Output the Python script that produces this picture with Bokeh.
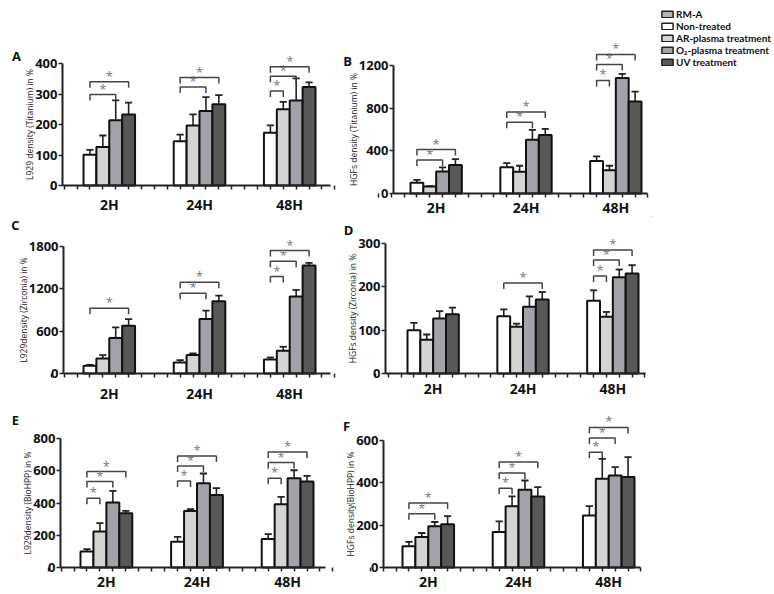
from bokeh.plotting import figure
from bokeh.models import ColumnDataSource, FixedTicker, Legend, LegendItem, Range1d
from bokeh.layouts import row, column
from bokeh.embed import file_html
from bokeh.resources import INLINE
from bokeh.core.properties import value

# ---------------- data ----------------
groups = ["2H", "24H", "48H"]
treatments = ["Non-treated", "AR-plasma treatment", "O\u2082-plasma treatment", "UV treatment"]
legend_labels = ["RM-A", "Non-treated", "AR-plasma treatment", "O\u2082-plasma treatment", "UV treatment"]

# A: L929 on Titanium   (rows = 2H, 24H, 48H ; cols = treatments)
a_mean = [[101, 126, 214, 233], [145, 197, 244, 266], [173, 250, 279, 323]]
a_err = [[16, 38, 65, 39], [22, 36, 46, 30], [24, 24, 72, 15]]
a_sig = [(0, 0, 2, 298), (0, 0, 3, 340), (1, 0, 2, 323), (1, 0, 3, 354),
         (2, 0, 1, 310), (2, 0, 2, 358), (2, 0, 3, 389)]
a_ticks = [0, 100, 200, 300, 400]

# B: HGFs on Titanium
b_mean = [[100, 65, 207, 268], [245, 204, 505, 549], [304, 219, 1082, 862]]
b_err = [[27, 5, 38, 55], [40, 56, 91, 56], [44, 41, 40, 94]]
b_sig = [(0, 0, 2, 313), (0, 0, 3, 412), (1, 0, 2, 668), (1, 0, 3, 765),
         (2, 0, 1, 1060), (2, 0, 2, 1210), (2, 0, 3, 1304)]
b_ticks = [0, 400, 800, 1200]

# C: L929 on Zirconia
c_mean = [[109, 213, 502, 677], [156, 261, 772, 1023], [199, 322, 1090, 1530]]
c_err = [[14, 48, 152, 95], [34, 23, 118, 81], [28, 57, 94, 38]]
c_sig = [(0, 0, 3, 924), (1, 0, 2, 1137), (1, 0, 3, 1293),
         (2, 0, 1, 1374), (2, 0, 2, 1592), (2, 0, 3, 1743)]
c_ticks = [0, 600, 1200, 1800]

# D: HGFs on Zirconia
d_mean = [[100, 78, 127, 137], [132, 108, 154, 171], [168, 131, 222, 231]]
d_err = [[17, 12, 17, 15], [16, 7, 24, 17], [24, 11, 18, 19]]
d_sig = [(1, 0, 3, 209), (2, 0, 1, 225), (2, 0, 2, 262), (2, 0, 3, 285)]
d_ticks = [0, 100, 200, 300]

# E: L929 on BioHPP
e_mean = [[99, 223, 403, 337], [159, 351, 523, 450], [176, 393, 554, 533]]
e_err = [[15, 52, 72, 14], [31, 11, 60, 42], [31, 45, 49, 35]]
e_sig = [(0, 0, 1, 430), (0, 0, 2, 533), (0, 0, 3, 595),
         (1, 0, 1, 537), (1, 0, 2, 630), (1, 0, 3, 692),
         (2, 0, 1, 554), (2, 0, 2, 651), (2, 0, 3, 717)]
e_ticks = [0, 200, 400, 600, 800]

# F: HGFs on BioHPP
f_mean = [[100, 144, 195, 204], [168, 289, 367, 336], [246, 419, 435, 427]]
f_err = [[21, 19, 20, 39], [50, 47, 44, 44], [44, 94, 39, 94]]
f_sig = [(0, 0, 2, 254), (0, 0, 3, 305),
         (1, 0, 1, 375), (1, 0, 2, 446), (1, 0, 3, 498),
         (2, 0, 1, 545), (2, 0, 2, 612), (2, 0, 3, 662)]
f_ticks = [0, 200, 400, 600]

# ---------------- style ----------------
COLORS = ["#ffffff", "#d4d4d4", "#a2a2aa", "#585858"]
RMA_COLOR = "#b4b4b4"
FONT = "Open Sans"
GROUP_STEP = 7  # slots between group starts (4 bars + gap)


def make_panel(letter, ylabel, mean, err, sig, yticks, g, std):
    # g: page-pixel geometry of the panel (figure box, axis positions, bar extent)
    x0, w, rt, h = g["x0"], g["w"], g["rt"], g["h"]
    fl, fr, zero, ttp = g["fl"], g["fr"], g["zero"], g["ttp"]
    bl, br = g["bl"], g["br"]
    nslots = (len(groups) - 1) * GROUP_STEP + len(treatments)
    sx = (br - bl) / nslots
    xs = -0.5 - (bl - x0) / sx
    xe = (nslots - 0.5) + (x0 + w - br) / sx
    xa = -0.5 - (bl - fl) / sx
    xb = (nslots - 0.5) + (fr - br) / sx
    sy = (zero - ttp) / yticks[-1]
    ys = -(rt + h - zero) / sy
    ye = (zero - rt) / sy

    p = figure(width=w, height=h, x_range=Range1d(xs, xe), y_range=Range1d(ys, ye),
               output_backend="svg", toolbar_location=None, title=None,
               min_border_left=0, min_border_right=0, min_border_top=0, min_border_bottom=0)
    p.xgrid.visible = False
    p.ygrid.visible = False
    p.outline_line_color = None
    p.background_fill_color = "white"

    # bars + error bars
    bx, btop, bcol, etop = [], [], [], []
    for gi, gname in enumerate(groups):
        for ti, tname in enumerate(treatments):
            bx.append(gi * GROUP_STEP + ti)
            btop.append(mean[gi][ti])
            bcol.append(COLORS[ti])
            etop.append(mean[gi][ti] + err[gi][ti])
    src = ColumnDataSource(dict(x=bx, top=btop, color=bcol, etop=etop,
                                cl=[v - 0.28 for v in bx], cr=[v + 0.28 for v in bx]))
    p.segment(x0="x", y0="top", x1="x", y1="etop", source=src, line_color="#222", line_width=1.6)
    p.segment(x0="cl", y0="etop", x1="cr", y1="etop", source=src, line_color="#222", line_width=1.8)
    p.vbar(x="x", top="top", bottom=0, width=1.0, fill_color="color", line_color="#111",
           line_width=2, source=src)

    # significance brackets
    d = 6 / sy
    mxs, mys, stx, sty = [], [], [], []
    for (gi, i, j, hgt) in sig:
        xi = gi * GROUP_STEP + i
        xj = gi * GROUP_STEP + j
        mxs.append([xi, xi, xj, xj])
        mys.append([hgt - d, hgt, hgt, hgt - d])
        stx.append((xi + xj) / 2)
        sty.append(hgt)
    p.multi_line(xs=mxs, ys=mys, line_color="#444", line_width=1.5)
    p.text(x=stx, y=sty, text=["*"] * len(stx), text_font=value(FONT),
           text_font_size="13px", text_align="center", text_baseline="bottom",
           text_color="#777", y_offset=3)

    # panel letter
    p.text(x=[xs + (g["lx"] - x0) / sx], y=[(zero - g["ly"]) / sy], text=[letter],
           text_font=value(FONT), text_font_size="13px", text_font_style="bold",
           text_align="center", text_baseline="middle", text_color="#111")

    # x axis (drawn on the zero line)
    ax = p.xaxis[0]
    ax.fixed_location = 0
    ax.bounds = (xa, xb)
    centers = [gi * GROUP_STEP + (len(treatments) - 1) / 2 for gi in range(len(groups))]
    ax.ticker = FixedTicker(ticks=centers, minor_ticks=list(range(-3, nslots + 2)))
    ax.major_label_overrides = {c: gname for c, gname in zip(centers, groups)}
    ax.major_tick_out = 0
    ax.major_tick_in = 0
    ax.minor_tick_out = 4
    ax.minor_tick_in = 0
    ax.minor_tick_line_width = 1.5
    ax.minor_tick_line_color = "#222"
    ax.axis_line_width = 2
    ax.axis_line_color = "#222"
    ax.major_label_standoff = std
    ax.major_label_text_font = FONT
    ax.major_label_text_font_size = "14px"
    ax.major_label_text_font_style = "bold"
    ax.major_label_text_color = "#111"

    # y axis (drawn at the left end of the x axis)
    ay = p.yaxis[0]
    ay.fixed_location = xa
    ay.ticker = FixedTicker(ticks=yticks)
    ay.bounds = (0, yticks[-1])
    ay.major_tick_out = 4
    ay.major_tick_in = 0
    ay.minor_tick_out = 0
    ay.minor_tick_in = 0
    ay.major_tick_line_width = 1.5
    ay.major_tick_line_color = "#222"
    ay.axis_line_width = 2
    ay.axis_line_color = "#222"
    ay.major_label_standoff = 1
    ay.major_label_text_font = FONT
    ay.major_label_text_font_size = "13px"
    ay.major_label_text_font_style = "bold"
    ay.major_label_text_color = "#111"
    ay.axis_label = ylabel
    ay.axis_label_text_font = FONT
    ay.axis_label_text_font_size = "8.5px"
    ay.axis_label_text_font_style = "normal"
    ay.axis_label_text_color = "#222"
    ay.axis_label_standoff = -3
    return p


geoA = dict(x0=0, w=338, rt=0, h=217, fl=62, fr=330, zero=185, ttp=63, bl=83, br=315, lx=16, ly=55)
geoB = dict(x0=338, w=314, rt=0, h=217, fl=393, fr=647, zero=193, ttp=65, bl=410, br=641, lx=347, ly=60)
geoC = dict(x0=0, w=338, rt=217, h=188, fl=63, fr=330, zero=373, ttp=246, bl=83, br=315, lx=15, ly=224)
geoD = dict(x0=338, w=314, rt=217, h=188, fl=385, fr=645, zero=373, ttp=243, bl=407, br=638, lx=348, ly=229)
geoE = dict(x0=0, w=338, rt=405, h=189, fl=60, fr=325, zero=567, ttp=438, bl=80, br=313, lx=15, ly=419)
geoF = dict(x0=338, w=314, rt=405, h=189, fl=383, fr=640, zero=567, ttp=440, bl=402, br=634, lx=346, ly=425)

pA = make_panel("A", "L929 density (Titanium) in %", a_mean, a_err, a_sig, a_ticks, geoA, 5)
pB = make_panel("B", "HGFs density (Titanium) in %", b_mean, b_err, b_sig, b_ticks, geoB, 0)
pC = make_panel("C", "L929density (Zirconia) in %", c_mean, c_err, c_sig, c_ticks, geoC, 6)
pD = make_panel("D", "HGFs density (Zirconia) in %", d_mean, d_err, d_sig, d_ticks, geoD, 1)
pE = make_panel("E", "L929density (BioHPP) in %", e_mean, e_err, e_sig, e_ticks, geoE, 0)
pF = make_panel("F", "HGFs density(BioHPP) in %", f_mean, f_err, f_sig, f_ticks, geoF, 0)

# legend figure (top right)
pL = figure(width=120, height=217, x_range=Range1d(0, 1), y_range=Range1d(0, 1),
            x_axis_type=None, y_axis_type=None, output_backend="svg",
            toolbar_location=None, title=None,
            min_border_left=0, min_border_right=0, min_border_top=0, min_border_bottom=0)
pL.xgrid.visible = False
pL.ygrid.visible = False
pL.outline_line_color = None
items = []
for lab, col in zip(legend_labels, [RMA_COLOR] + COLORS):
    r = pL.vbar(x=[-5], top=[-5], bottom=[-6], width=0.1, fill_color=col,
                line_color="#222", line_width=1.5)
    items.append(LegendItem(label=lab, renderers=[r]))
leg = Legend(items=items, location="top_left")
leg.margin = 8
leg.padding = 0
leg.spacing = 0
leg.glyph_width = 14
leg.glyph_height = 8
leg.label_height = 12
leg.label_standoff = 2
leg.label_text_font = "Lato"
leg.label_text_font_size = "10px"
leg.label_text_font_style = "bold"
leg.label_text_color = "#111"
leg.border_line_color = None
leg.background_fill_alpha = 0
pL.add_layout(leg, "center")

lay = column(row(pA, pB, pL), row(pC, pD), row(pE, pF))
open("out.html", "w").write(file_html(lay, INLINE))
